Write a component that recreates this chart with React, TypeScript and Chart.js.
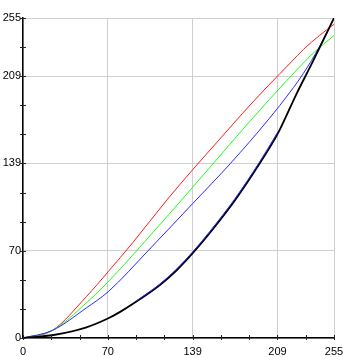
import React, { useEffect, useRef } from 'react';
import { Chart, registerables } from 'chart.js';
Chart.register(...registerables);

const tickLabels = [0, 70, 139, 209, 255];
const tickSteps = 11;

const redX = [0, 24, 52, 70, 90, 118, 139, 160, 180, 200, 210, 220, 230, 243, 255];
const redY = [0, 6, 33, 53, 76, 110, 134, 157, 179, 200, 210, 220, 230, 241, 250];

const greenX = [0, 24, 52, 70, 100, 130, 156, 180, 202, 220, 238, 255];
const greenY = [0, 6, 28, 45, 77, 110, 139, 166, 190, 209, 227, 241];

const blueX = [0, 24, 52, 70, 103, 139, 170, 202, 219, 230, 243, 255];
const blueY = [0, 6, 24, 37, 70, 107, 139, 175, 196, 211, 232, 255];

const blackX = [0, 25, 52, 70, 80, 93, 112, 126, 139.5, 153, 174, 194, 209, 224, 238, 250, 255];
const blackY = [0, 2.4, 8.5, 15.7, 21, 29, 42, 54, 68, 83.5, 110, 139, 163, 194, 221, 245, 255];

const blue2X = [93, 112, 126, 139.5, 153, 174, 194, 209];
const blue2Y = [29.6, 42.8, 55, 69, 84.7, 111.3, 140.3, 164.2];

const pts = (xs: number[], ys: number[]) => xs.map((x, i) => ({ x, y: ys[i] }));

const isLabeled = (v: number) => tickLabels.some((t) => Math.abs(t - v) < 1);
const labelFor = (v: number) => {
  const m = tickLabels.find((t) => Math.abs(t - v) < 1);
  return m !== undefined ? String(m) : '';
};

const crossTicks = {
  id: 'crossTicks',
  afterDraw(chart: any) {
    const { ctx, chartArea } = chart;
    const xs = chart.scales.x;
    const ys = chart.scales.y;
    ctx.save();
    ctx.strokeStyle = '#222';
    ctx.lineWidth = 1;
    xs.ticks.forEach((t: any) => {
      const px = Math.round(xs.getPixelForValue(t.value)) + 0.5;
      ctx.beginPath();
      ctx.moveTo(px, chartArea.bottom - 3);
      ctx.lineTo(px, chartArea.bottom + 2);
      ctx.stroke();
    });
    ys.ticks.forEach((t: any) => {
      const py = Math.round(ys.getPixelForValue(t.value)) + 0.5;
      ctx.beginPath();
      ctx.moveTo(chartArea.left - 3, py);
      ctx.lineTo(chartArea.left + 3, py);
      ctx.stroke();
    });
    ctx.restore();
  },
};

const buildTicks = (scale: any) => {
  const arr: { value: number }[] = [];
  for (let i = 0; i <= tickSteps; i++) arr.push({ value: (i * 255) / tickSteps });
  scale.ticks = arr;
};

export default function App() {
  const ref = useRef<HTMLCanvasElement>(null);
  useEffect(() => {
    if (!ref.current) return;
    const font = { family: '"Liberation Sans", Arial, sans-serif', size: 11 };
    const line = (data: any, color: string, width: number) => ({
      data,
      borderColor: color,
      borderWidth: width,
      pointRadius: 0,
      cubicInterpolationMode: 'monotone' as const,
    });
    const chart = new Chart(ref.current, {
      type: 'line',
      data: {
        datasets: [
          line(pts(blue2X, blue2Y), '#2020ff', 1),
          line(pts(blackX, blackY), '#000000', 1.8),
          line(pts(blueX, blueY), '#2a2aff', 1),
          line(pts(greenX, greenY), '#1aff1a', 1),
          line(pts(redX, redY), '#ff1a1a', 1),
        ],
      },
      options: {
        animation: false,
        responsive: true,
        maintainAspectRatio: false,
        parsing: false as any,
        layout: { padding: { top: 18, right: 17, left: 0, bottom: 0 } },
        plugins: { legend: { display: false }, tooltip: { enabled: false } },
        scales: {
          x: {
            type: 'linear',
            min: 0,
            max: 255,
            afterBuildTicks: buildTicks,
            afterFit: (s: any) => { s.height = 19; },
            grid: {
              color: (c: any) => (isLabeled(c.tick.value) ? '#cfcfcf' : 'rgba(0,0,0,0)'),
              drawTicks: false,
            },
            border: { display: true, color: '#000', width: 1.5 },
            ticks: { callback: (v: any) => labelFor(Number(v)), padding: 7, color: '#000', font, maxRotation: 0, autoSkip: false },
          },
          y: {
            type: 'linear',
            min: 0,
            max: 255,
            afterBuildTicks: buildTicks,
            afterFit: (s: any) => { s.width = 23; },
            grid: {
              color: (c: any) => (isLabeled(c.tick.value) ? '#cfcfcf' : 'rgba(0,0,0,0)'),
              drawTicks: false,
            },
            border: { display: true, color: '#000', width: 1.5 },
            ticks: { callback: (v: any) => labelFor(Number(v)), padding: 2, color: '#000', font, autoSkip: false },
          },
        },
      },
      plugins: [crossTicks],
    });
    return () => chart.destroy();
  }, []);
  return (
    <div style={{ position: 'fixed', left: 0, top: 0, width: 351, height: 357, background: '#fff' }}>
      <canvas ref={ref} />
    </div>
  );
}
